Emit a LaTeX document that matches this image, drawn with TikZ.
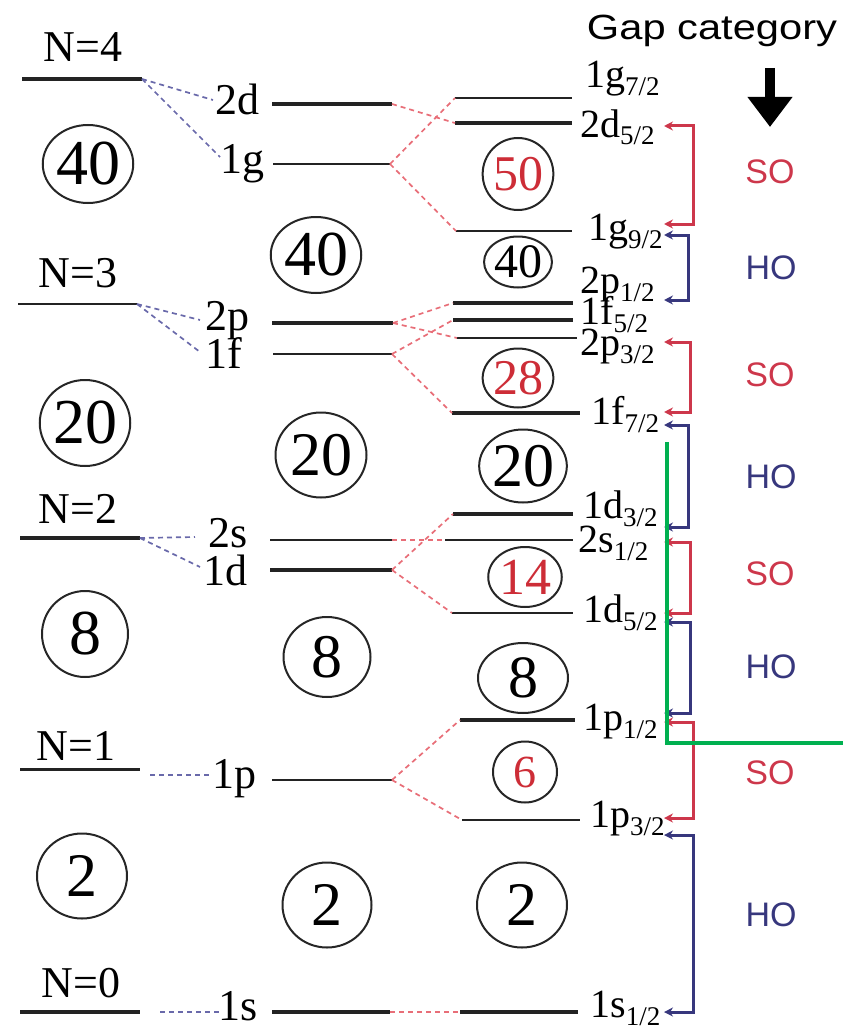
\documentclass[tikz,border=0pt]{standalone}
\usepackage{fontspec}
\setmainfont{Liberation Serif}
\newfontfamily\sansf{Liberation Sans}
\usetikzlibrary{arrows.meta,shapes.geometric}
\definecolor{sored}{RGB}{205,55,75}
\definecolor{honavy}{RGB}{55,55,125}
\definecolor{dashred}{RGB}{232,110,120}
\definecolor{dashblue}{RGB}{105,105,170}
\definecolor{grn}{RGB}{0,176,80}
\definecolor{numred}{RGB}{205,45,55}
\definecolor{lvlgray}{RGB}{35,35,35}
\newcommand\myfs[1]{\fontsize{#1}{#1}\selectfont}
\newcommand\sbt[1]{\raisebox{-8pt}{\myfs{27}#1}}
\begin{document}
\begin{tikzpicture}[x=1pt,y=-1pt,
  lvl/.style={draw=lvlgray,line width=#1},
  lvl/.default=2.4pt,
  nlab/.style={anchor=base,inner sep=0pt,font=\myfs{44}},
  mlab/.style={anchor=base east,inner sep=0pt,font=\myfs{44}},
  jlab/.style={anchor=base west,inner sep=0pt,font=\myfs{40}},
  bdash/.style={draw=dashblue,line width=1.7pt,dash pattern=on 5pt off 4pt},
  rdash/.style={draw=dashred,line width=1.7pt,dash pattern=on 5pt off 4pt},
  ring/.style={ellipse,draw=black!85,line width=2pt,inner sep=0pt},
  sobr/.style={draw=sored,line width=3pt,{Stealth[length=9pt,width=9pt]}-{Stealth[length=9pt,width=9pt]}},
  hobr/.style={draw=honavy,line width=3pt,{Stealth[length=9pt,width=9pt]}-{Stealth[length=9pt,width=9pt]}},
  solab/.style={text=sored,font=\sansf\myfs{34},inner sep=0pt},
  holab/.style={text=honavy,font=\sansf\myfs{34},inner sep=0pt}]
\useasboundingbox (0,0) rectangle (843,1030);

% ---------- HO levels (column 1)
\coordinate (N4l) at (22,79);   \coordinate (N4r) at (142,79);
\coordinate (N3l) at (18,304);  \coordinate (N3r) at (137,304);
\coordinate (N2l) at (20,538);  \coordinate (N2r) at (140,538);
\coordinate (N1l) at (20,769);  \coordinate (N1r) at (140,769);
\coordinate (N0l) at (20,1012); \coordinate (N0r) at (140,1012);
\draw[lvl=3.4pt] (N4l) -- (N4r);
\draw[lvl=2.2pt] (N3l) -- (N3r);
\draw[lvl=3.4pt] (N2l) -- (N2r);
\draw[lvl=3pt] (N1l) -- (N1r);
\draw[lvl=3.4pt] (N0l) -- (N0r);
\node[nlab] (tN4) at (83,62) {N=4};
\node[nlab] (tN3) at (78,287) {N=3};
\node[nlab] (tN2) at (78,523) {N=2};
\node[nlab] (tN1) at (76,760) {N=1};
\node[nlab] (tN0) at (81,997) {N=0};

% ---------- middle levels
\coordinate (m2dl) at (272,104); \coordinate (m2dr) at (392,104);
\coordinate (m1gl) at (273,164); \coordinate (m1gr) at (390,164);
\coordinate (m2pl) at (272,323); \coordinate (m2pr) at (393,323);
\coordinate (m1fl) at (273,354); \coordinate (m1fr) at (392,354);
\coordinate (m2sl) at (270,540); \coordinate (m2sr) at (392,540);
\coordinate (m1dl) at (270,570); \coordinate (m1dr) at (392,570);
\coordinate (m1pl) at (272,780); \coordinate (m1pr) at (392,780);
\coordinate (m1sl) at (272,1012); \coordinate (m1sr) at (390,1012);
\draw[lvl=3.2pt] (m2dl) -- (m2dr);
\draw[lvl=2pt] (m1gl) -- (m1gr);
\draw[lvl=3.4pt] (m2pl) -- (m2pr);
\draw[lvl=2.4pt] (m1fl) -- (m1fr);
\draw[lvl=2.4pt] (m2sl) -- (m2sr);
\draw[lvl=3.4pt] (m1dl) -- (m1dr);
\draw[lvl=2.8pt] (m1pl) -- (m1pr);
\draw[lvl=3.4pt] (m1sl) -- (m1sr);
\node[mlab] (t2d) at (260,115) {2d};
\node[mlab] (t1g) at (265,173) {1g};
\node[mlab] (t2p) at (250,330) {2p};
\node[mlab] (t1f) at (242,368) {1f};
\node[mlab] (t2s) at (248,547) {2s};
\node[mlab] (t1d) at (248,585) {1d};
\node[mlab] (t1p) at (257,788) {1p};
\node[mlab] (t1s) at (258,1020) {1s};

% ---------- spin-orbit levels (column 3)
\coordinate (j1g7l) at (455,98);   \coordinate (j1g7r) at (572,98);
\coordinate (j2d5l) at (455,123);  \coordinate (j2d5r) at (572,123);
\coordinate (j1g9l) at (456,231);  \coordinate (j1g9r) at (572,231);
\coordinate (j2p1l) at (453,303);  \coordinate (j2p1r) at (573,303);
\coordinate (j1f5l) at (453,320);  \coordinate (j1f5r) at (573,320);
\coordinate (j2p3l) at (457,338);  \coordinate (j2p3r) at (577,338);
\coordinate (j1f7l) at (452,413);  \coordinate (j1f7r) at (580,413);
\coordinate (j1d3l) at (453,514);  \coordinate (j1d3r) at (573,514);
\coordinate (j2s1l) at (445,540);  \coordinate (j2s1r) at (573,540);
\coordinate (j1d5l) at (452,613);  \coordinate (j1d5r) at (573,613);
\coordinate (j1p1l) at (460,720);  \coordinate (j1p1r) at (575,720);
\coordinate (j1p3l) at (462,820);  \coordinate (j1p3r) at (580,820);
\coordinate (j1s1l) at (460,1012); \coordinate (j1s1r) at (578,1012);
\draw[lvl=2.4pt] (j1g7l) -- (j1g7r);
\draw[lvl=3.8pt] (j2d5l) -- (j2d5r);
\draw[lvl=2.4pt] (j1g9l) -- (j1g9r);
\draw[lvl=3.4pt] (j2p1l) -- (j2p1r);
\draw[lvl=3.4pt] (j1f5l) -- (j1f5r);
\draw[lvl=2.4pt] (j2p3l) -- (j2p3r);
\draw[lvl=3.4pt] (j1f7l) -- (j1f7r);
\draw[lvl=3.4pt] (j1d3l) -- (j1d3r);
\draw[lvl=2.4pt] (j2s1l) -- (j2s1r);
\draw[lvl=2.4pt] (j1d5l) -- (j1d5r);
\draw[lvl=3.4pt] (j1p1l) -- (j1p1r);
\draw[lvl=2.4pt] (j1p3l) -- (j1p3r);
\draw[lvl=3.4pt] (j1s1l) -- (j1s1r);
\node[jlab] (u1g7) at (585,88)  {1g\sbt{7/2}};
\node[jlab] (u2d5) at (580,137) {2d\sbt{5/2}};
\node[jlab] (u1g9) at (588,240) {1g\sbt{9/2}};
\node[jlab] (u2p1) at (580,293) {2p\sbt{1/2}};
\node[jlab] (u1f5) at (580,324) {1f\sbt{5/2}};
\node[jlab] (u2p3) at (580,355) {2p\sbt{3/2}};
\node[jlab] (u1f7) at (591,424) {1f\sbt{7/2}};
\node[jlab] (u1d3) at (583,518) {1d\sbt{3/2}};
\node[jlab] (u2s1) at (578,552) {2s\sbt{1/2}};
\node[jlab] (u1d5) at (583,622) {1d\sbt{5/2}};
\node[jlab] (u1p1) at (583,730) {1p\sbt{1/2}};
\node[jlab] (u1p3) at (590,827) {1p\sbt{3/2}};
\node[jlab] (u1s1) at (590,1017) {1s\sbt{1/2}};

% ---------- blue dashed connectors
\coordinate (c2d) at (213,100); \coordinate (c1g) at (220,157);
\coordinate (c2p) at (200,320); \coordinate (c1f) at (200,352);
\coordinate (c2s) at (195,537); \coordinate (c1d) at (200,567);
\coordinate (c1pa) at (150,775); \coordinate (c1pb) at (210,775);
\coordinate (c1sa) at (160,1012); \coordinate (c1sb) at (220,1012);
\draw[bdash] (N4r) -- (c2d);
\draw[bdash] (N4r) -- (c1g);
\draw[bdash] (N3r) -- (c2p);
\draw[bdash] (N3r) -- (c1f);
\draw[bdash] (N2r) -- (c2s);
\draw[bdash] (N2r) -- (c1d);
\draw[bdash] (c1pa) -- (c1pb);
\draw[bdash] (c1sa) -- (c1sb);

% ---------- red dashed connectors
\draw[rdash] (m2dr) -- (j2d5l);
\draw[rdash] (m1gr) -- (j1g7l);
\draw[rdash] (m1gr) -- (j1g9l);
\draw[rdash] (m2pr) -- (j2p1l);
\draw[rdash] (m2pr) -- (j2p3l);
\draw[rdash] (m1fr) -- (j1f5l);
\draw[rdash] (m1fr) -- (j1f7l);
\draw[rdash] (m2sr) -- (j2s1l);
\draw[rdash] (m1dr) -- (j1d3l);
\draw[rdash] (m1dr) -- (j1d5l);
\draw[rdash] (m1pr) -- (j1p1l);
\draw[rdash] (m1pr) -- (j1p3l);
\draw[rdash] (m1sr) -- (j1s1l);

% ---------- shell-closure rings
\node[ring,minimum width=87pt,minimum height=78pt,font=\myfs{64}] (r1a) at (88,164) {40};
\node[ring,minimum width=86pt,minimum height=86pt,font=\myfs{64}] (r1b) at (85,423) {20};
\node[ring,minimum width=86pt,minimum height=86pt,font=\myfs{64}] (r1c) at (85,634) {8};
\node[ring,minimum width=90pt,minimum height=85pt,font=\myfs{62}] (r1d) at (82,876) {2};
\node[ring,minimum width=85pt,minimum height=76pt,font=\myfs{64}] (r2a) at (316,255) {40};
\node[ring,minimum width=91pt,minimum height=85pt,font=\myfs{62}] (r2b) at (321,455) {20};
\node[ring,minimum width=87pt,minimum height=80pt,font=\myfs{62}] (r2c) at (327,657) {8};
\node[ring,minimum width=89pt,minimum height=85pt,font=\myfs{62}] (r2d) at (327,905) {2};
\node[ring,minimum width=70pt,minimum height=72pt,font=\myfs{50},text=numred] (r3a) at (518,174) {50};
\node[ring,minimum width=60pt,minimum height=51pt,font=\myfs{48}] (r3b) at (518,262) {40};
\node[ring,minimum width=60pt,minimum height=59pt,font=\myfs{50},text=numred] (r3c) at (518,378) {28};
\node[ring,minimum width=80pt,minimum height=73pt,font=\myfs{62}] (r3d) at (523,466) {20};
\node[ring,minimum width=60pt,minimum height=60pt,font=\myfs{52},text=numred] (r3e) at (525,577) {14};
\node[ring,minimum width=90pt,minimum height=70pt,font=\myfs{60}] (r3f) at (523,678) {8};
\node[ring,minimum width=64pt,minimum height=61pt,font=\myfs{46},text=numred] (r3g) at (525,772) {6};
\node[ring,minimum width=90pt,minimum height=85pt,font=\myfs{62}] (r3h) at (522,905) {2};

% ---------- gap brackets
\coordinate (b1a) at (664,126); \coordinate (b1b) at (664,224);
\coordinate (b2a) at (664,235); \coordinate (b2b) at (664,300);
\coordinate (b3a) at (664,342); \coordinate (b3b) at (664,412);
\coordinate (b4a) at (664,425); \coordinate (b4b) at (664,527);
\coordinate (b5a) at (664,542); \coordinate (b5b) at (664,613);
\coordinate (b6a) at (664,622); \coordinate (b6b) at (664,713);
\coordinate (b7a) at (664,722); \coordinate (b7b) at (664,818);
\coordinate (b8a) at (664,835); \coordinate (b8b) at (664,1012);
\draw[sobr] (b1a) -- ++(29,0) |- (b1b);
\draw[hobr] (b2a) -- ++(24,0) |- (b2b);
\draw[sobr] (b3a) -- ++(26,0) |- (b3b);
\draw[hobr] (b4a) -- ++(24,0) |- (b4b);
\draw[sobr] (b5a) -- ++(26,0) |- (b5b);
\draw[hobr] (b6a) -- ++(26,0) |- (b6b);
\draw[sobr] (b7a) -- ++(29,0) |- (b7b);
\draw[hobr] (b8a) -- ++(29,0) |- (b8b);

\node[solab] (s1) at (770,172) {SO};
\node[holab] (h1) at (771,268) {HO};
\node[solab] (s2) at (770,375) {SO};
\node[holab] (h2) at (771,477) {HO};
\node[solab] (s3) at (770,574) {SO};
\node[holab] (h3) at (771,667) {HO};
\node[solab] (s4) at (770,773) {SO};
\node[holab] (h4) at (771,915) {HO};

% ---------- header
\node[anchor=base,inner sep=0pt] (gap) at (712,40) {\scalebox{1.19}[1]{\sansf\myfs{35}Gap category}};
\coordinate (arrT) at (770,68); \coordinate (arrB) at (770,127);
\draw[line width=10pt,-{Triangle[width=43pt,length=30pt]}] (arrT) -- (arrB);

% ---------- green marker
\coordinate (g1) at (667,442); \coordinate (g2) at (667,743); \coordinate (g3) at (843,743);
\draw[draw=grn,line width=4pt] (g1) -- (g2) -- (g3);
\end{tikzpicture}
\end{document}
